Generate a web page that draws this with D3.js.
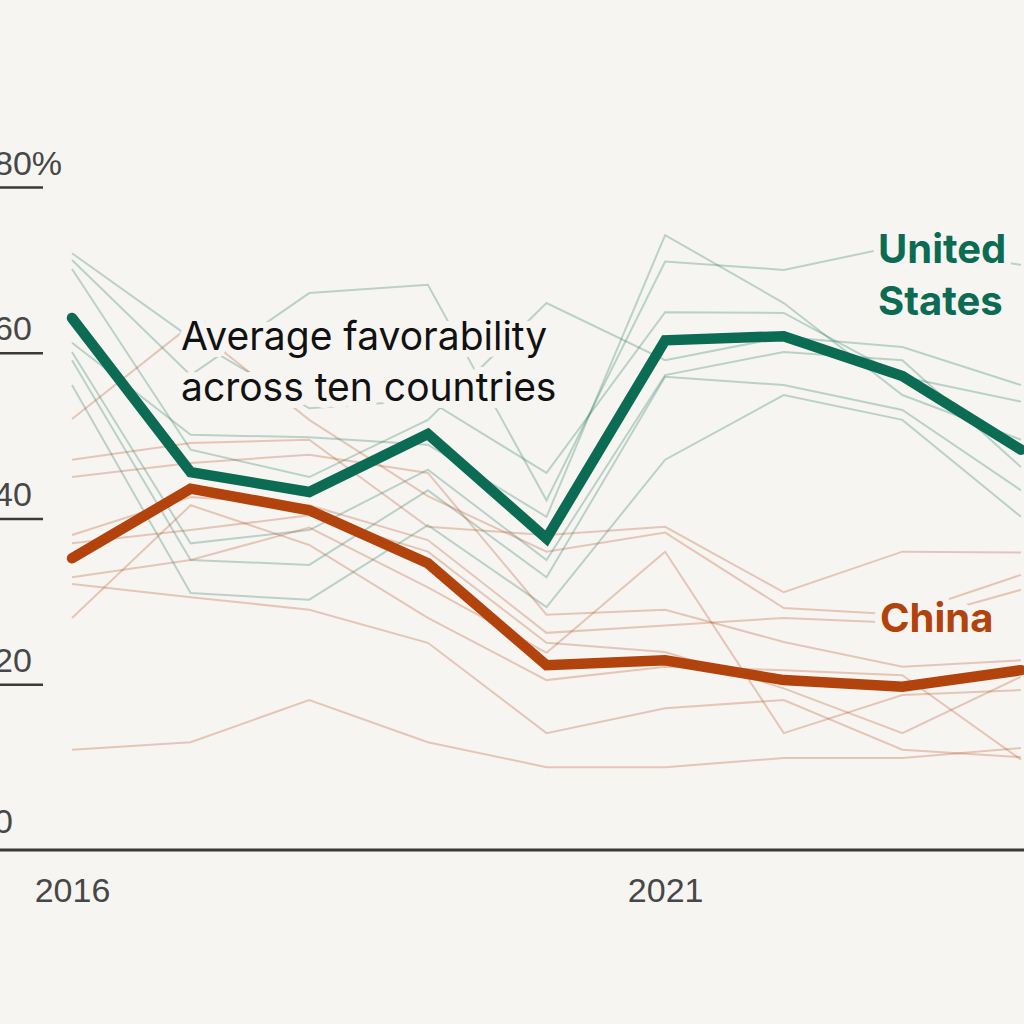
<!DOCTYPE html>
<html>
<head>
<meta charset="utf-8">
<script src="https://cdn.jsdelivr.net/npm/d3@7"></script>
<style>
  html, body { margin: 0; padding: 0; background: #f7f5f2; }
  svg { display: block; }
</style>
</head>
<body>
<div id="chart"></div>
<script>
// years surveyed
var years = [2016, 2017, 2018, 2019, 2020, 2021, 2022, 2023, 2024];

// average favorability (%) across ten countries
var usAverage    = [64.2, 45.6, 43.2, 50.2, 37.6, 61.5, 62.0, 57.2, 48.3];
var chinaAverage = [35.2, 43.6, 41.0, 34.6, 22.3, 22.9, 20.5, 19.7, 21.7];

// individual countries, favorable view of the US
var usByCountry = [
  [72.0, 61.8, 53.3, 54.3, 45.5, 64.9, 64.8, 57.1, 54.1],
  [71.2, 57.3, 67.2, 68.2, 42.2, 71.0, 70.0, 73.0, 70.6],
  [70.1, 48.3, 45.0, 51.9, 66.0, 59.1, 61.9, 60.7, 56.1],
  [61.2, 50.1, 49.8, 48.9, 40.2, 74.2, 66.0, 54.9, 49.5],
  [60.1, 37.0, 38.6, 45.9, 35.0, 57.3, 60.1, 59.1, 46.2],
  [59.1, 35.0, 34.4, 43.4, 32.9, 57.1, 56.1, 53.1, 43.4],
  [56.1, 31.0, 30.2, 39.2, 29.3, 47.1, 54.9, 51.9, 40.2]
];

// individual countries, favorable view of China
var chinaByCountry = [
  [12.1, 13.0, 18.1, 13.0, 10.0, 10.0, 11.1, 11.1, 12.3],
  [52.0, 63.3, 51.9, 42.7, 36.0, 38.3, 29.2, 28.4, 33.2],
  [47.1, 49.1, 49.5, 39.0, 38.0, 39.0, 31.1, 36.0, 35.9],
  [45.0, 46.7, 47.7, 45.5, 28.4, 29.0, 25.1, 22.1, 22.9],
  [38.0, 42.6, 41.6, 37.4, 26.2, 27.1, 28.0, 27.4, 31.4],
  [37.0, 38.6, 40.4, 36.0, 25.0, 23.9, 19.5, 14.1, 20.9],
  [32.9, 35.0, 38.9, 31.7, 23.8, 36.0, 14.1, 18.7, 19.3],
  [32.1, 30.5, 29.0, 25.0, 14.1, 17.1, 18.1, 12.1, 11.2],
  [28.0, 41.6, 36.8, 28.0, 20.5, 22.1, 21.7, 21.1, 10.9]
];

var yTicks = [0, 20, 40, 60, 80];
var xTicks = [2016, 2021];

var width = 1024, height = 1024;
var bg = "#f7f5f2";
var green = "#0c6b53", orange = "#b2430d";
var axisFont = "34px 'Liberation Sans', Arial, sans-serif";

var svg = d3.select("#chart").append("svg")
    .attr("width", width)
    .attr("height", height);

svg.append("rect")
    .attr("width", width)
    .attr("height", height)
    .attr("fill", bg);

var xScale = d3.scaleLinear()
    .domain([2016, 2024])
    .range([72, 1021]);

var yScale = d3.scaleLinear()
    .domain([0, 80])
    .range([850, 187]);

var line = d3.line()
    .x(function(d, i) { return xScale(years[i]); })
    .y(function(d) { return yScale(d); });

//y axis: short rules under each label
var yAxis = d3.axisRight(yScale)
    .tickValues(yTicks.slice(1))
    .tickSize(43)
    .tickFormat(function(d) { return d === 80 ? d + "%" : d; });

var gy = svg.append("g").call(yAxis);
gy.select(".domain").remove();
gy.selectAll(".tick line")
    .attr("stroke", "#3a3a3a")
    .attr("stroke-width", 2.5);
gy.selectAll(".tick text")
    .attr("x", -6)
    .attr("dy", -13)
    .attr("text-anchor", "start")
    .attr("fill", "#474747")
    .style("font", axisFont);

// zero label sits on the baseline
svg.append("text")
    .attr("x", -6)
    .attr("y", yScale(0) - 17)
    .attr("fill", "#474747")
    .style("font", axisFont)
    .text(yTicks[0]);

//x axis
var xAxis = d3.axisBottom(xScale)
    .tickValues(xTicks)
    .tickSize(0)
    .tickFormat(d3.format("d"));

var gx = svg.append("g")
    .attr("transform", "translate(0," + yScale(0) + ")")
    .call(xAxis);
gx.select(".domain").remove();
gx.selectAll(".tick text")
    .attr("y", 52)
    .attr("dy", 0)
    .attr("fill", "#474747")
    .style("font", axisFont);

svg.append("line")
    .attr("x1", 0)
    .attr("x2", width)
    .attr("y1", yScale(0))
    .attr("y2", yScale(0))
    .attr("stroke", "#3a3a3a")
    .attr("stroke-width", 3);

// thin country lines
svg.append("g").selectAll("path")
    .data(usByCountry)
    .enter().append("path")
      .attr("d", line)
      .attr("fill", "none")
      .attr("stroke", green)
      .attr("stroke-opacity", 0.26)
      .attr("stroke-width", 2);

svg.append("g").selectAll("path")
    .data(chinaByCountry)
    .enter().append("path")
      .attr("d", line)
      .attr("fill", "none")
      .attr("stroke", orange)
      .attr("stroke-opacity", 0.26)
      .attr("stroke-width", 2);

// labels with a halo so the thin lines break around them
function label(x, y, lines, color, weight, size, lead) {
  var t = svg.append("text")
      .attr("x", x)
      .attr("y", y)
      .attr("fill", color)
      .attr("stroke", bg)
      .attr("stroke-width", 14)
      .attr("stroke-linejoin", "round")
      .attr("paint-order", "stroke")
      .style("font-family", "Inter, 'Noto Sans', sans-serif")
      .style("font-size", size + "px")
      .style("font-weight", weight);
  t.selectAll("tspan")
      .data(lines)
      .enter().append("tspan")
        .attr("x", x)
        .attr("dy", function(d, i) { return i === 0 ? 0 : lead; })
        .text(function(d) { return d; });
}

label(181, 350, ["Average favorability", "across ten countries"], "#111", 400, 39, 51);
label(878, 263, ["United", "States"], green, 700, 40, 52);
label(880, 632, ["China"], orange, 700, 40, 0);

// average lines
svg.append("path")
    .datum(usAverage)
    .attr("d", line)
    .attr("fill", "none")
    .attr("stroke", green)
    .attr("stroke-width", 10.5)
    .attr("stroke-linecap", "round");

svg.append("path")
    .datum(chinaAverage)
    .attr("d", line)
    .attr("fill", "none")
    .attr("stroke", orange)
    .attr("stroke-width", 10.5)
    .attr("stroke-linecap", "round");
</script>
</body>
</html>
